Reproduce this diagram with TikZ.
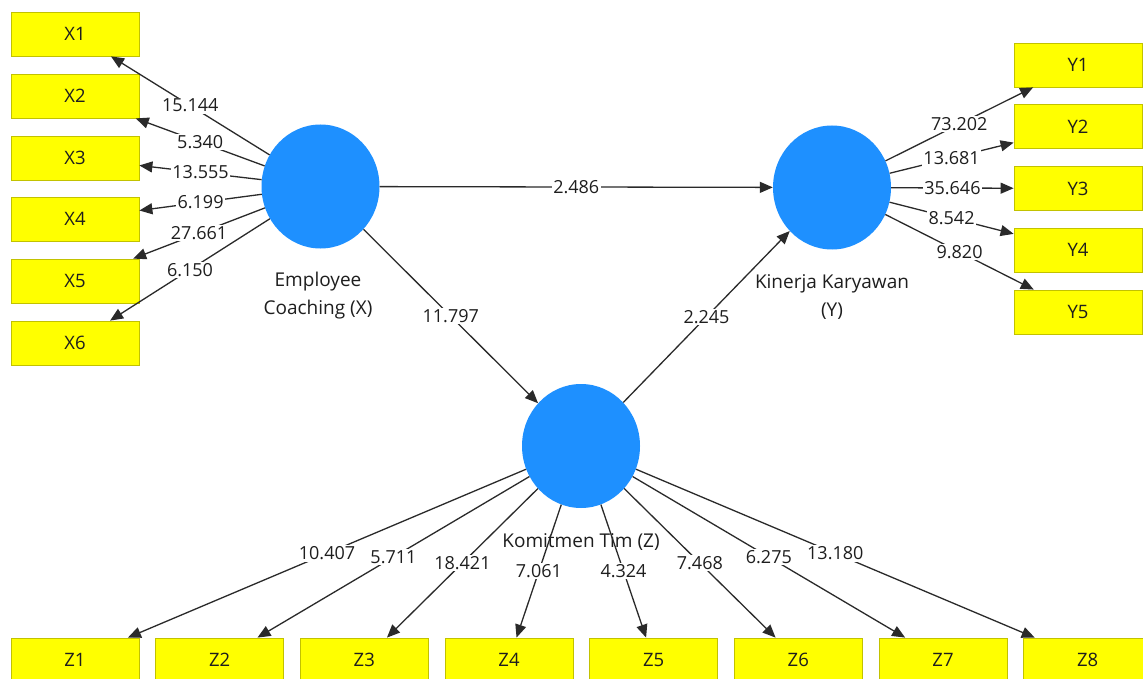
\documentclass[tikz,border=0pt]{standalone}
\usepackage{fontspec}
\setmainfont{Open Sans}
\usetikzlibrary{arrows.meta,shapes.geometric}
\definecolor{lvblue}{HTML}{1E90FF}
\definecolor{itemfill}{HTML}{FFFF00}
\definecolor{itemline}{HTML}{C2C200}
\definecolor{ink}{HTML}{1E1E1E}
\definecolor{wire}{HTML}{2A2A2A}
\begin{document}
\begin{tikzpicture}[x=1pt,y=-1pt,
  latent/.style={ellipse, fill=lvblue, draw=none, minimum width=118pt, minimum height=124pt, inner sep=0pt},
  item/.style={rectangle, fill=itemfill, draw=itemline, line width=0.8pt, minimum width=128pt, minimum height=44pt, inner sep=0pt, font=\fontsize{18.5}{22}\selectfont, text=ink},
  arr/.style={draw=wire, line width=1.3pt, -{Triangle[length=13pt,width=11pt]}},
  coef/.style={fill=white, inner sep=1.5pt, font=\fontsize{18}{21}\selectfont, text=ink},
  lvname/.style={align=center, inner sep=0pt, font=\fontsize{19}{28}\selectfont, text=ink}
]
\useasboundingbox (0,0) rectangle (1143,679);
\clip (0,0) rectangle (1143,679);
\fill[white] (0,0) rectangle (1143,679);

% indicator boxes
\foreach \i/\yy in {1/34,2/96,3/158,4/219,5/281,6/343}
  \node[item] (x\i) at (75,\yy) {X\i};
\foreach \i/\yy in {1/65,2/126.75,3/188.5,4/250.25,5/312}
  \node[item] (y\i) at (1078,\yy) {Y\i};
\foreach \i/\xx in {1/75,2/219.7,3/364.3,4/509,5/653.7,6/798.3,7/943,8/1087.7}
  \node[item] (z\i) at (\xx,660) {Z\i};

% latent variables
\node[latent] (lx) at (320.5,186.5) {};
\node[latent] (ly) at (832,187.5) {};
\node[latent] (lz) at (581,446) {};

\node[lvname] (nx) at (318,296) {Employee\\Coaching (X)};
\node[lvname] (ny) at (832,297) {Kinerja Karyawan\\(Y)};
\node[lvname] (nz) at (581,542) {Komitmen Tim (Z)};

% outer loadings
\draw[arr] (lx) -- node[coef] (cx1) {15.144} (x1);
\draw[arr] (lx) -- node[coef] (cx2) {5.340} (x2);
\draw[arr] (lx) -- node[coef] (cx3) {13.555} (x3);
\draw[arr] (lx) -- node[coef] (cx4) {6.199} (x4);
\draw[arr] (lx) -- node[coef] (cx5) {27.661} (x5);
\draw[arr] (lx) -- node[coef] (cx6) {6.150} (x6);

\draw[arr] (ly) -- node[coef] (cy1) {73.202} (y1);
\draw[arr] (ly) -- node[coef] (cy2) {13.681} (y2);
\draw[arr] (ly) -- node[coef] (cy3) {35.646} (y3);
\draw[arr] (ly) -- node[coef] (cy4) {8.542} (y4);
\draw[arr] (ly) -- node[coef] (cy5) {9.820} (y5);

\draw[arr] (lz) -- node[coef] (cz1) {10.407} (z1);
\draw[arr] (lz) -- node[coef] (cz2) {5.711} (z2);
\draw[arr] (lz) -- node[coef] (cz3) {18.421} (z3);
\draw[arr] (lz) -- node[coef] (cz4) {7.061} (z4);
\draw[arr] (lz) -- node[coef] (cz5) {4.324} (z5);
\draw[arr] (lz) -- node[coef] (cz6) {7.468} (z6);
\draw[arr] (lz) -- node[coef] (cz7) {6.275} (z7);
\draw[arr] (lz) -- node[coef] (cz8) {13.180} (z8);

% structural paths
\draw[arr] (lx) -- node[coef] (pxy) {2.486} (ly);
\draw[arr] (lx) -- node[coef] (pxz) {11.797} (lz);
\draw[arr] (lz) -- node[coef] (pzy) {2.245} (ly);
\end{tikzpicture}
\end{document}
